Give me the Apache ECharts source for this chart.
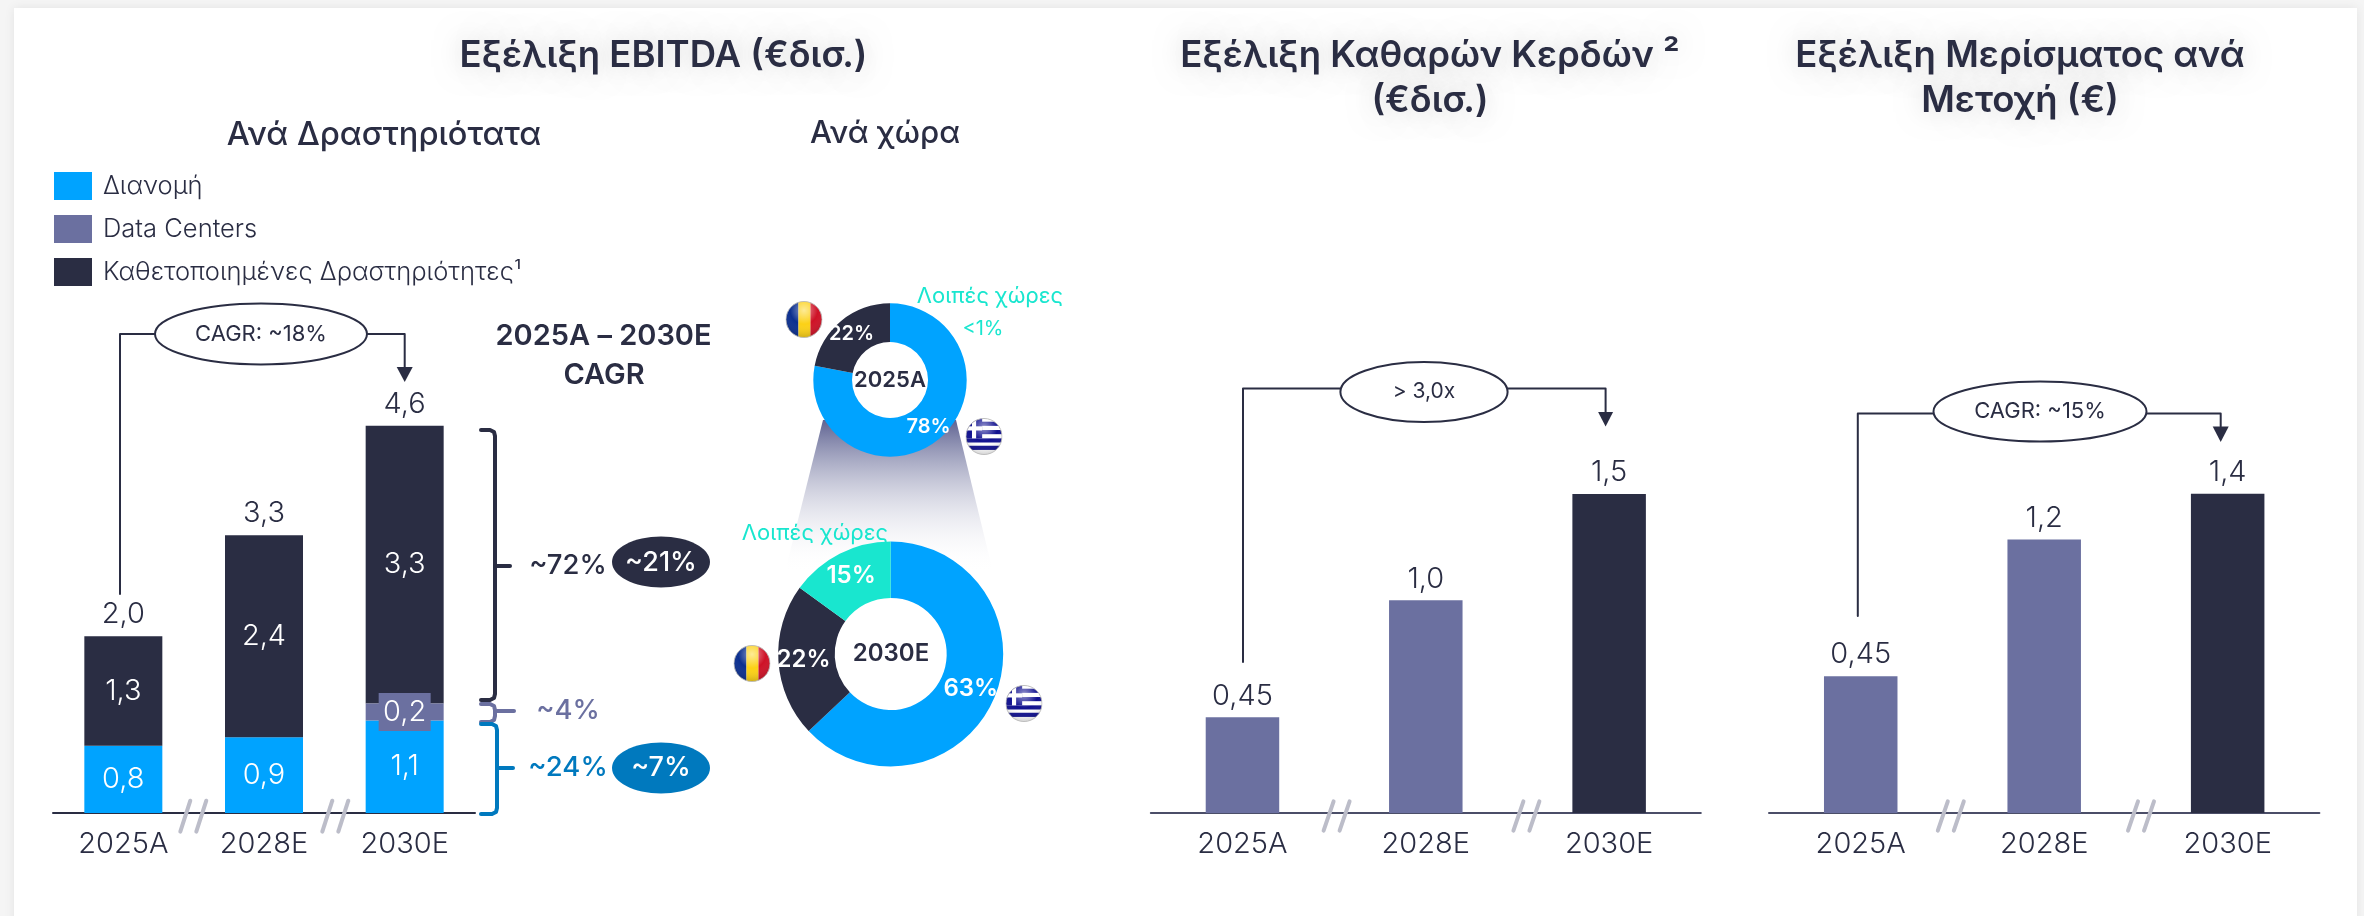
<!DOCTYPE html>
<html><head><meta charset="utf-8">
<style>html,body{margin:0;padding:0;background:#f5f5f5}#c{width:2364px;height:916px}</style>
<script src="https://cdn.jsdelivr.net/npm/echarts@6/dist/echarts.min.js"></script>
</head><body><div id="c"></div>
<script>
const categories = ['2025A','2028E','2030E'];
const distribution = [0.8,0.9,1.1];
const dataCenters = [null,null,0.2];
const integrated = [1.3,2.4,3.3];
const ebitdaTotals = ['2,0','3,3','4,6'];
const netProfit = [0.45,1.0,1.5];
const netProfitLabels = ['0,45','1,0','1,5'];
const dividend = [0.6,1.2,1.4];
const dividendLabels = ['0,45','1,2','1,4'];
const donut2025 = [78,22];
const donut2030 = [63,22,15];
const legendNames = ['Διανομή','Data Centers','Καθετοποιημένες Δραστηριότητες¹'];

const BLUE='#00a3ff',PURPLE='#6b70a0',DARK='#2a2d43',TEAL='#19e6cf',DBLUE='#0079be',GREY='#bcbdc9';
const FONT='Inter,"Noto Sans",sans-serif';
const num=v=>String(v.toFixed(1)).replace('.',',');

function txt(text,x,y,size,fill,weight,extra){return Object.assign({type:'text',z:50,style:{text,x,y,fontSize:size,fill:fill||DARK,fontWeight:weight||400,fontFamily:FONT,align:'center',verticalAlign:'middle'}},extra||{});}
function title(text,x,y,size){const t=txt(text,x,y,size,DARK,600);t.style.textShadowColor='rgba(0,0,0,0.16)';t.style.textShadowBlur=26;return t;}
function poly(points,stroke,w,z){return {type:'polyline',z:z||40,shape:{points},style:{stroke,lineWidth:w,fill:null,lineCap:'round',lineJoin:'round'}};}
function ell(cx,cy,rx,ry,fill,stroke){return {type:'ellipse',z:45,shape:{cx,cy,rx,ry},style:{fill,stroke:stroke||null,lineWidth:2}};}
function arrow(x,top,tip,hw){return {type:'polygon',z:40,shape:{points:[[x-hw,top],[x+hw,top],[x,tip]]},style:{fill:DARK}};}
function connector(x0,y0,yTop,cx,rx,ry,cyE,x1,headTop,tip,hw,label,fs){return [
  poly([[x0,y0],[x0,yTop],[cx-rx,yTop]],DARK,2),
  poly([[cx+rx,yTop],[x1,yTop],[x1,headTop]],DARK,2),
  arrow(x1,headTop,tip,hw),
  ell(cx,cyE,rx,ry,'#fff',DARK),
  txt(label,cx,cyE,fs,DARK,400)
];}
function brk(x,y0,y1,d){return [poly([[x,y0],[x+d,y1]],GREY,4),poly([[x+16,y0],[x+16+d,y1]],GREY,4)];}
function brace(x0,x1,xm,yT,yM,yB,c){return [
  poly([[x0,yT],[x1-5,yT],[x1-1,yT+2],[x1,yT+6],[x1,yB-6],[x1-1,yB-2],[x1-5,yB],[x0,yB]],c,4),
  poly([[x1,yM],[xm,yM]],c,4)
];}

const gloss='<radialGradient id="g" cx="50%" cy="25%" r="75%"><stop offset="0" stop-color="#fff" stop-opacity=".55"/><stop offset=".5" stop-color="#fff" stop-opacity="0"/><stop offset="1" stop-color="#000" stop-opacity=".18"/></radialGradient><clipPath id="k"><circle cx="20" cy="20" r="19.5"/></clipPath>';
const ro='<svg xmlns="http://www.w3.org/2000/svg" width="40" height="40"><defs>'+gloss+'</defs><g clip-path="url(#k)"><rect width="14" height="40" fill="#0b2f8f"/><rect x="14" width="13" height="40" fill="#fcd116"/><rect x="27" width="13" height="40" fill="#ce1126"/><rect width="40" height="40" fill="url(#g)"/></g><circle cx="20" cy="20" r="19.5" fill="none" stroke="#bbb"/></svg>';
const gr='<svg xmlns="http://www.w3.org/2000/svg" width="40" height="40"><defs>'+gloss+'</defs><g clip-path="url(#k)"><rect width="40" height="40" fill="#fff"/><rect y="4" width="40" height="4.5" fill="#10108f"/><rect y="13" width="40" height="4.5" fill="#10108f"/><rect y="22" width="40" height="4.5" fill="#10108f"/><rect y="30" width="40" height="4.5" fill="#10108f"/><rect y="0" width="18" height="22" fill="#10108f"/><rect x="7" y="0" width="4.5" height="22" fill="#fff"/><rect x="0" y="9" width="18" height="4.5" fill="#fff"/><rect width="40" height="40" fill="url(#g)"/></g><circle cx="20" cy="20" r="19.5" fill="none" stroke="#bbb"/></svg>';
function flag(svg,cx,cy){return {type:'image',z:40,style:{image:'data:image/svg+xml;charset=utf-8,'+encodeURIComponent(svg),x:cx-18.5,y:cy-18.5,width:37,height:37}};}

const graphic=[
  {type:'rect',z:-10,shape:{x:14,y:8,width:2343,height:920},style:{fill:'#fff',shadowColor:'rgba(0,0,0,0.08)',shadowBlur:10}},
  {type:'polygon',z:0,shape:{points:[[823,420],[956,420],[993,572],[785,572]]},style:{fill:{type:'linear',x:0,y:0,x2:0,y2:1,colorStops:[{offset:0,color:'#5f6392'},{offset:1,color:'rgba(255,255,255,0)'}]}}},
  title('Εξέλιξη EBITDA (€δισ.)',663.5,56,36.5),
  title('Εξέλιξη Καθαρών Κερδών ²',1430,56,36.5),
  title('(€δισ.)',1430,101,36.5),
  title('Εξέλιξη Μερίσματος ανά',2020,56,36.5),
  title('Μετοχή (€)',2020,101,36.5),
  txt('Ανά Δραστηριότατα',384,135,32.5,DARK,500),
  txt('Ανά χώρα',885,134,31,DARK,500),
  txt('2025A – 2030E',603.5,336,29,DARK,600),
  txt('CAGR',604,375,29,DARK,600),
  ...connector(120,594,334,261,106,30.5,334,404.7,367,382,8,'CAGR: ~18%',22),
  ...connector(1243,662,388.5,1424,83.6,30,392,1605.6,412,426.5,7.5,'> 3,0x',21),
  ...connector(1857.8,616,413.5,2040,106.5,30,411.5,2220.7,426.5,442,8,'CAGR: ~15%',22),
  ...brk(180.3,831.7,800.7,10),...brk(322.3,831.7,800.7,10),
  ...brk(1323.6,830.6,801.4,10),...brk(1513.4,830.6,801.4,10),
  ...brk(1937.8,830.6,801.4,10),...brk(2128,830.6,801.4,10),
  ...brace(481,495,510,430,566,700,DARK),
  ...brace(481,495,514,704,711,722,PURPLE),
  ...brace(481,497,513,724,768,814,DBLUE),
  txt('~72%',568,566,27.5,DARK,500),
  txt('~4%',568,711,27.5,PURPLE,500),
  txt('~24%',568,768,27.5,DBLUE,500),
  ell(661,562,49,25.5,DARK),txt('~21%',661,563,27,'#fff',500),
  ell(661,768,49,25.5,DBLUE),txt('~7%',661,768,27,'#fff',500),
  txt('Λοιπές χώρες',990,296,22,TEAL,400),
  txt('<1%',983,329,20,TEAL,400),
  txt('Λοιπές χώρες',815,533,22,TEAL,400),
  txt('2025A',890,380,22,DARK,600),
  txt('2030E',891,654,24,DARK,600),
  flag(ro,804,319.5),flag(gr,984,436.5),flag(ro,752,663.5),flag(gr,1024,703.5)
];

const axisBase=(i)=>({type:'category',gridIndex:i,data:categories,axisTick:{show:false},
  axisLine:{lineStyle:{color:i?'#4b4e68':DARK,width:2}},
  axisLabel:{color:DARK,fontSize:29,fontWeight:300,fontFamily:FONT,margin:17,interval:0}});
const yBase=(i,max)=>({type:'value',gridIndex:i,min:0,max,show:false});
const inLabel={show:true,position:'inside',color:'#fff',fontSize:29,fontWeight:300,fontFamily:FONT,formatter:p=>num(p.value)};
const topLabel={show:true,position:'top',distance:7,color:DARK,fontSize:29,fontWeight:300,fontFamily:FONT};

const option={
  animation:false,backgroundColor:'#f5f5f5',
  legend:{orient:'vertical',left:54,top:172,padding:0,itemWidth:38,itemHeight:28,itemGap:15,icon:'rect',
    data:legendNames,selectedMode:false,textStyle:{color:DARK,fontSize:25.5,fontWeight:300,fontFamily:FONT,padding:[0,0,0,6]}},
  grid:[
    {left:53,width:422,top:392,height:421},
    {left:1150.8,width:550,top:387.6,height:425.4},
    {left:1769,width:550.4,top:357,height:456}
  ],
  xAxis:[axisBase(0),axisBase(1),axisBase(2)],
  yAxis:[yBase(0,5),yBase(1,2),yBase(2,2)],
  graphic:{elements:graphic},
  series:[
    {name:legendNames[0],type:'bar',stack:'e',barWidth:78,xAxisIndex:0,yAxisIndex:0,data:distribution,itemStyle:{color:BLUE},label:inLabel},
    {name:legendNames[1],type:'bar',stack:'e',barWidth:78,xAxisIndex:0,yAxisIndex:0,data:dataCenters,itemStyle:{color:PURPLE},z:3,
      label:Object.assign({},inLabel,{backgroundColor:PURPLE,width:52,height:38,lineHeight:38,align:'center'})},
    {name:legendNames[2],type:'bar',stack:'e',barWidth:78,xAxisIndex:0,yAxisIndex:0,data:integrated,itemStyle:{color:DARK},label:inLabel},
    {name:'Σύνολο',type:'bar',stack:'e',barWidth:78,xAxisIndex:0,yAxisIndex:0,data:[0,0,0],itemStyle:{color:'transparent'},
      label:Object.assign({},topLabel,{formatter:p=>ebitdaTotals[p.dataIndex]})},
    {name:'Καθαρά Κέρδη',type:'bar',barWidth:73.5,xAxisIndex:1,yAxisIndex:1,
      data:netProfit.map((v,i)=>({value:v,itemStyle:{color:i<2?PURPLE:DARK}})),
      label:Object.assign({},topLabel,{formatter:p=>netProfitLabels[p.dataIndex]})},
    {name:'Μέρισμα',type:'bar',barWidth:73.5,xAxisIndex:2,yAxisIndex:2,
      data:dividend.map((v,i)=>({value:v,itemStyle:{color:i<2?PURPLE:DARK}})),
      label:Object.assign({},topLabel,{formatter:p=>dividendLabels[p.dataIndex]})},
    {name:'2025A',type:'pie',z:5,center:[890,380],radius:[38,76.7],startAngle:90,silent:true,avoidLabelOverlap:false,
      data:[{name:'Ελλάδα',value:donut2025[0],itemStyle:{color:BLUE}},{name:'Ρουμανία',value:donut2025[1],itemStyle:{color:DARK}}],
      label:{position:'inside',color:'#fff',fontSize:20,fontWeight:600,fontFamily:FONT,formatter:p=>p.value+'%'},labelLine:{show:false}},
    {name:'2030E',type:'pie',z:5,center:[890.7,654],radius:[56,112.5],startAngle:90,silent:true,avoidLabelOverlap:false,
      data:[{name:'Ελλάδα',value:donut2030[0],itemStyle:{color:BLUE}},{name:'Ρουμανία',value:donut2030[1],itemStyle:{color:DARK}},{name:'Λοιπές χώρες',value:donut2030[2],itemStyle:{color:TEAL}}],
      label:{position:'inside',color:'#fff',fontSize:24,fontWeight:600,fontFamily:FONT,formatter:p=>p.value+'%'},labelLine:{show:false}}
  ]
};
echarts.init(document.getElementById('c')).setOption(option);
</script></body></html>
